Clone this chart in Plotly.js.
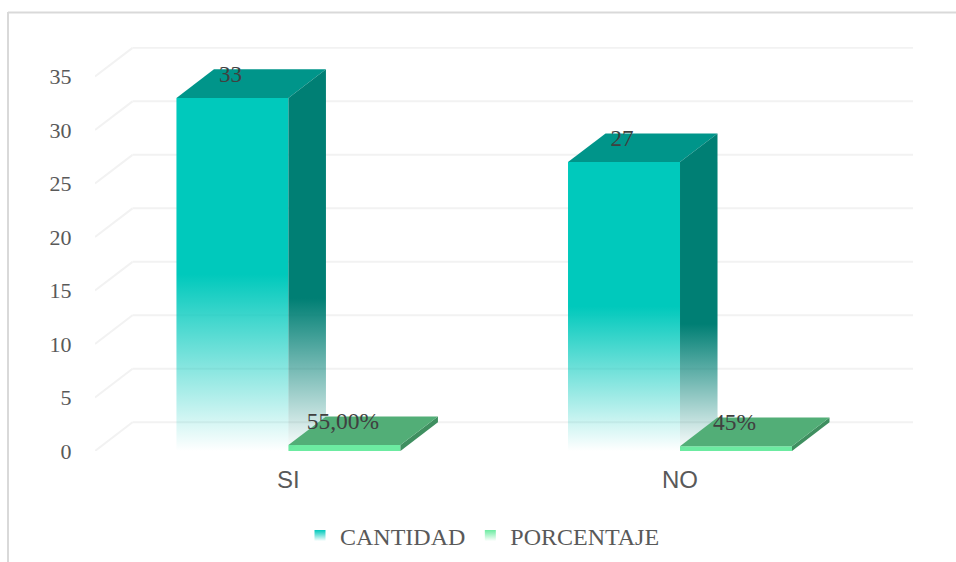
<!DOCTYPE html>
<html>
<head>
<meta charset="utf-8">
<script src="https://cdn.plot.ly/plotly-3.0.1.min.js"></script>
<style>html,body{margin:0;padding:0;background:#fff;overflow:hidden}#c{width:956px;height:562px}</style>
</head>
<body>
<div id="c"></div>
<script>
const categories = ['SI', 'NO'];
const cantidad = [33, 27];
const porcentaje = [0.55, 0.45];
const cantidadLabels = ['33', '27'];
const porcentajeLabels = ['55,00%', '45%'];
const yTicks = [0, 5, 10, 15, 20, 25, 30, 35];

const catPos = categories.map((_, i) => i);
const barW = 0.286, depthX = 0.0958, depthY = 2.68;
const xRange = [-0.494, 1.595], yRange = [0, 37.76];
const serif = '"Liberation Serif", serif', sans = '"Liberation Sans", sans-serif';
const TEAL = '0,201,188', TEAL_SIDE = '0,127,116', TEAL_TOP = '0,149,138';
const GREEN = '#6CEBA1', GREEN_SIDE = '#3F8F60', GREEN_TOP = '#52AE77';

// Gridlines on the back wall and the floor diagonals, below all the bars
const xEnd = xRange[1], xLeft = xRange[0];
const gridShapes = [];
yTicks.forEach(t => {
  gridShapes.push({type:'line', layer:'below', xref:'x', yref:'y', x0:xLeft+depthX, x1:xEnd, y0:t+depthY, y1:t+depthY, line:{color:'#F2F2F2', width:2}});
  gridShapes.push({type:'line', layer:'below', xref:'x', yref:'y', x0:xLeft, x1:xLeft+depthX, y0:t, y1:t+depthY, line:{color:'#F2F2F2', width:2}});
});
// Frame of the picture
const px = v => (v - 95) / 818, py = v => (451 - v) / 404;
const frame = [
  {type:'line', xref:'paper', yref:'paper', x0:px(8), x1:px(956), y0:py(12.5), y1:py(12.5), line:{color:'#D9D9D9', width:2}},
  {type:'line', xref:'paper', yref:'paper', x0:px(8), x1:px(8), y0:py(12), y1:py(562), line:{color:'#D9D9D9', width:2}}
];

const traces = [
  // Bars carrying the values; the CANTIDAD front face is painted with a gradient fill just after
  {type:'bar', name:'CANTIDAD', x:catPos.map(c => c - barW / 2), y:cantidad, width:barW, marker:{color:'rgba(0,0,0,0)', line:{width:0}}, showlegend:false},
  {type:'bar', name:'PORCENTAJE', x:catPos.map(c => c + barW / 2), y:porcentaje, width:barW, marker:{color:GREEN, line:{width:0}}, showlegend:false}
];

function poly(xs, ys, extra) {
  return Object.assign({type:'scatter', mode:'lines', x:xs.concat(xs[0]), y:ys.concat(ys[0]), fill:'toself', line:{width:0}, showlegend:false, hoverinfo:'skip'}, extra);
}
cantidad.forEach((v, i) => {
  const x0 = catPos[i] - barW, x1 = catPos[i];
  traces.push(poly([x0, x1, x1, x0], [0, 0, v, v], {
    fillgradient:{type:'vertical', start:v, stop:0,
      colorscale:[[0,'rgba(' + TEAL + ',1)'],[0.5,'rgba(' + TEAL + ',1)'],[1,'rgba(' + TEAL + ',0)']]}
  }));
  traces.push(poly([x0, x1, x1 + depthX, x0 + depthX], [v, v, v + depthY, v + depthY], {fillcolor:'rgb(' + TEAL_TOP + ')'}));
  traces.push(poly([x1, x1 + depthX, x1 + depthX, x1], [v, v + depthY, depthY, 0], {
    fillgradient:{type:'vertical', start:v + depthY, stop:0,
      colorscale:[[0,'rgba(' + TEAL_SIDE + ',1)'],[0.6,'rgba(' + TEAL_SIDE + ',1)'],[1,'rgba(' + TEAL_SIDE + ',0)']]}
  }));
});
porcentaje.forEach((v, i) => {
  const x0 = catPos[i], x1 = catPos[i] + barW;
  traces.push(poly([x1, x1 + depthX, x1 + depthX, x1], [v, v + depthY, depthY, 0], {fillcolor:GREEN_SIDE}));
  traces.push(poly([x0, x1, x1 + depthX, x0 + depthX], [v, v, v + depthY, v + depthY], {fillcolor:GREEN_TOP}));
});

// Data labels
traces.push({type:'scatter', mode:'text', x:catPos.map(c => c - barW / 2 - 0.005), y:cantidad.map(v => v + 2.05),
  text:cantidadLabels, textposition:'middle center', textfont:{family:serif, size:23, color:'#404040'}, showlegend:false, hoverinfo:'skip', cliponaxis:false});
traces.push({type:'scatter', mode:'text', x:catPos.map(c => c + barW / 2 - 0.004), y:porcentaje.map(v => v + 2.05),
  text:porcentajeLabels, textposition:'middle center', textfont:{family:serif, size:23.5, color:'#404040'}, showlegend:false, hoverinfo:'skip', cliponaxis:false});

// Legend entries
traces.push({type:'scatter', mode:'markers', x:[null], y:[null], name:'CANTIDAD',
  marker:{symbol:'square', size:11, color:'rgb(' + TEAL + ')', gradient:{type:'vertical', color:'#ffffff'}}, hoverinfo:'skip'});
traces.push({type:'scatter', mode:'markers', x:[null], y:[null], name:'PORCENTAJE',
  marker:{symbol:'square', size:11, color:GREEN, gradient:{type:'vertical', color:'#ffffff'}}, hoverinfo:'skip'});

const layout = {
  width:956, height:562, autosize:false,
  margin:{l:95, r:43, t:47, b:111, pad:0},
  paper_bgcolor:'#fff', plot_bgcolor:'rgba(0,0,0,0)',
  barmode:'overlay', showlegend:true,
  xaxis:{type:'linear', range:xRange, tickmode:'array', tickvals:catPos, ticktext:categories, showgrid:false, zeroline:false, showline:false,
    ticks:'outside', ticklen:7, tickcolor:'rgba(0,0,0,0)', tickfont:{family:sans, size:24, color:'#595959'}},
  yaxis:{type:'linear', range:yRange, tickmode:'array', tickvals:yTicks, showgrid:false, zeroline:false, showline:false,
    ticks:'outside', ticklen:18, tickcolor:'rgba(0,0,0,0)', tickfont:{family:serif, size:22, color:'#595959'}},
  legend:{orientation:'h', xref:'container', yref:'container', x:300/956, xanchor:'left', y:26/562, yanchor:'middle',
    font:{family:serif, size:24, color:'#595959'}, bgcolor:'rgba(0,0,0,0)', traceorder:'normal'},
  shapes:gridShapes.concat(frame)
};
Plotly.newPlot('c', traces, layout, {displayModeBar:false});
</script>
</body>
</html>
